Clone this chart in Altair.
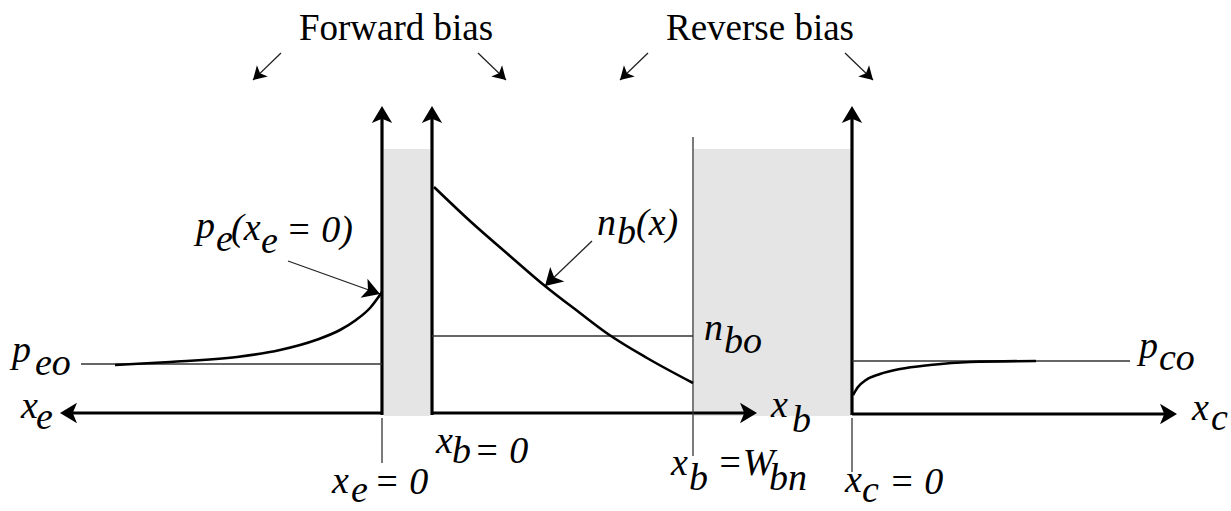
import math
import altair as alt
import pandas as pd

W, H = 1231, 511
FONT = "Liberation Serif"

# Diagram coordinates: x to the right, y downward, in the same units as the canvas.

# Depletion regions of the two junctions: (x0, x1, y0, y1)
depletion = [(384, 430, 149, 416), (694, 851, 149, 416)]

# Thick axes: (x0, y0, x1, y1)
axes = [
    (382, 415, 382, 112),   # emitter concentration axis
    (432, 415, 432, 112),   # base concentration axis
    (852, 415, 852, 112),   # collector concentration axis
    (382, 413, 66, 413),    # x_e (points left)
    (432, 413, 750, 413),   # x_b
    (852, 414, 1170, 414),  # x_c
]
axis_heads = [(382, 106, 0), (432, 106, 0), (852, 106, 0),
              (60, 413, 270), (757, 413, 90), (1177, 414, 90)]

# Thin reference lines: equilibrium levels and position markers
guides = [
    (81, 364, 382, 364),    # p_eo
    (432, 336, 693, 336),   # n_bo
    (852, 361, 1130, 361),  # p_co
    (693, 137, 693, 456),   # x_b = W_bn
    (382, 418, 382, 463),   # x_e = 0
    (852, 418, 852, 472),   # x_c = 0
]

# Pointer arrows: start -> tip, head length
pointers = [
    (288, 261, 380, 294, 17),   # p_e(x_e = 0)
    (592, 241, 545, 286, 17),   # n_b(x)
    (281, 53, 253, 80, 13),     # forward bias, emitter side
    (478, 53, 506, 80, 13),     # forward bias, base side
    (648, 53, 620, 80, 13),     # reverse bias, base side
    (845, 53, 873, 80, 13),     # reverse bias, collector side
]

# Minority carrier profiles
pe_x = [115, 170, 237, 280, 316, 340, 356, 370, 382]
pe_y = [365, 362, 357, 350, 340, 330, 320, 308, 292]
nb_x = [434, 470, 510, 545, 580, 608, 647, 693]
nb_y = [187, 221, 256, 286, 313, 334, 358, 383]
pc_x = [853, 858, 866, 880, 900, 930, 970, 1036]
pc_y = [395, 387, 380, 374, 369, 365, 362, 361]

# Math labels: (text, left x, baseline y)
math_labels = [
    ("p", 12, 362), ("eo", 35, 375),
    ("x", 21, 418), ("e", 36, 429),
    ("p", 196, 238), ("e", 216, 251), ("(x", 231, 240), ("e", 261, 253), ("= 0)", 286, 242),
    ("n", 597, 235), ("b", 617, 244), ("(x)", 636, 235),
    ("n", 704, 340), ("bo", 724, 353),
    ("p", 1139, 358), ("co", 1159, 370),
    ("x", 1192, 420), ("c", 1211, 430),
    ("x", 771, 417), ("b", 792, 432),
    ("x", 332, 493), ("e", 351, 502), ("= 0", 374, 494),
    ("x", 436, 453), ("b", 452, 463), ("= 0", 474, 463),
    ("x", 671, 475), ("b", 689, 490), ("=W", 717, 475), ("bn", 769, 490),
    ("x", 845, 492), ("c", 862, 502), ("= 0", 889, 494),
]
titles = [("Forward bias", 396, 40), ("Reverse bias", 760, 40)]

HEAD = "M0,0 L0.6,1 L0,0.75 L-0.6,1 Z"

xs = alt.Scale(domain=[0, W], nice=False, zero=False)
ys = alt.Scale(domain=[0, H], nice=False, zero=False, reverse=True)


def X(f="x"):
    return alt.X(f"{f}:Q", scale=xs, axis=None)


def Y(f="y"):
    return alt.Y(f"{f}:Q", scale=ys, axis=None)


rect_df = pd.DataFrame(depletion, columns=["x", "x2", "y", "y2"])
rects = alt.Chart(rect_df).mark_rect(color="#e5e5e5").encode(
    x=X(), x2="x2:Q", y=Y(), y2="y2:Q")

seg_rows = [dict(x=a, y=b, x2=c, y2=d, w=3.2, c="#000000") for a, b, c, d in axes]
seg_rows += [dict(x=a, y=b, x2=c, y2=d, w=1.3, c="#333333") for a, b, c, d in guides]
seg_rows += [dict(x=a, y=b, x2=c, y2=d, w=1.3, c="#222222") for a, b, c, d, _ in pointers]
seg_df = pd.DataFrame(seg_rows)
segs = alt.Chart(seg_df).mark_rule(strokeCap="butt").encode(
    x=X(), y=Y(), x2="x2:Q", y2="y2:Q",
    size=alt.Size("w:Q", scale=None), color=alt.Color("c:N", scale=None))

head_rows = [dict(x=a, y=b, angle=g, size=(2 * 17) ** 2) for a, b, g in axis_heads]
for a, b, c, d, L in pointers:
    ang = math.degrees(math.atan2(c - a, -(d - b))) % 360
    head_rows.append(dict(x=c, y=d, angle=ang, size=(2 * L) ** 2))
head_df = pd.DataFrame(head_rows)
heads = alt.Chart(head_df).mark_point(
    shape=HEAD, filled=True, color="black", opacity=1, strokeWidth=0).encode(
    x=X(), y=Y(), angle=alt.Angle("angle:Q", scale=None),
    size=alt.Size("size:Q", scale=None))

curve_rows = []
for name, cx, cy in [("pe", pe_x, pe_y), ("nb", nb_x, nb_y), ("pc", pc_x, pc_y)]:
    for i, (a, b) in enumerate(zip(cx, cy)):
        curve_rows.append(dict(curve=name, i=i, x=a, y=b))
curve_df = pd.DataFrame(curve_rows)
curves = alt.Chart(curve_df).mark_line(
    color="black", strokeWidth=2.6, interpolate="monotone").encode(
    x=X(), y=Y(), detail="curve:N", order="i:Q")

lab_df = pd.DataFrame(math_labels, columns=["t", "x", "y"])
labels = alt.Chart(lab_df).mark_text(
    font=FONT, fontSize=38, fontStyle="italic", align="left",
    baseline="alphabetic", color="black").encode(x=X(), y=Y(), text="t:N")

title_df = pd.DataFrame(titles, columns=["t", "x", "y"])
title_text = alt.Chart(title_df).mark_text(
    font=FONT, fontSize=37, align="center", baseline="alphabetic",
    color="black").encode(x=X(), y=Y(), text="t:N")

chart = alt.layer(rects, segs, curves, heads, labels, title_text).properties(
    width=W, height=H, padding=0, autosize="none", background="white"
).configure_view(stroke=None)

chart.save("out.html", embed_options={"renderer": "svg", "actions": False})
